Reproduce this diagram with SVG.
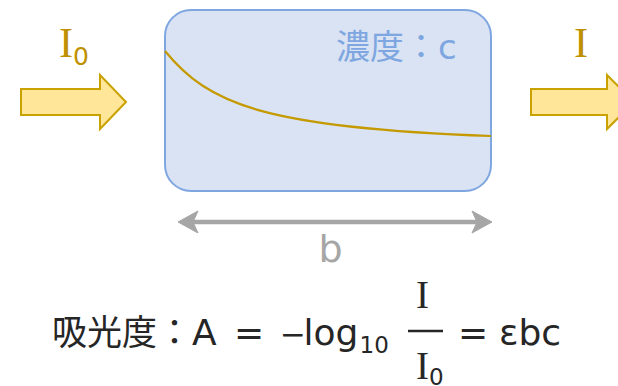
<svg xmlns="http://www.w3.org/2000/svg" width="618" height="386" viewBox="0 0 618 386">
<style>
.arrow{fill:#FFE699;stroke:#C9A200;stroke-width:2;stroke-linejoin:miter}
.gold{fill:#BF9000}
.serif{font-family:"Liberation Serif","DejaVu Serif",serif}
.sans{font-family:"DejaVu Sans","Noto Sans",sans-serif}
.cjk{font-family:"Noto Sans CJK JP","DejaVu Sans",sans-serif}
.dark{fill:#262626}
</style>
<rect width="618" height="386" fill="#ffffff"/>
<g id="arrow-in">
<path class="arrow" d="M21,89 L100,89 L100,75 L126,102 L100,129 L100,115 L21,115 Z"/>
<text class="gold" x="59" y="57"><tspan class="serif" font-size="42">I</tspan><tspan class="sans" font-size="25" x="73" y="65">0</tspan></text>
</g>
<g id="sample">
<rect x="165" y="10" width="326" height="181" rx="26" ry="26" fill="#DAE3F3" stroke="#7EA6E0" stroke-width="2"/>
<path d="M165,51 C208,104 265,128 491,136" fill="none" stroke="#C49A00" stroke-width="2.2"/>
<text x="336" y="59" fill="#7EA6E0" font-size="34"><tspan class="cjk">濃度：</tspan><tspan class="sans">c</tspan></text>
</g>
<g id="arrow-out">
<path class="arrow" d="M531,89 L607,89 L607,75 L634,102 L607,129 L607,115 L531,115 Z"/>
<text class="gold serif" x="574" y="57" font-size="42">I</text>
</g>
<g id="connectors">
<line x1="185" y1="222" x2="485" y2="222" stroke="#A6A6A6" stroke-width="4.5"/>
<path d="M178,222 L198,211 L193,222 L198,233 Z" fill="#A6A6A6" stroke="#A6A6A6" stroke-width="1"/>
<path d="M492,222 L472,211 L477,222 L472,233 Z" fill="#A6A6A6" stroke="#A6A6A6" stroke-width="1"/>
</g>
<g id="label-b">
<text class="sans" x="318.5" y="262" font-size="38" fill="#A6A6A6">b</text>
</g>
<g id="formula" class="dark">
<text class="cjk" x="52" y="345" font-size="35">吸光度：</text>
<text class="sans" x="192" y="345" font-size="36">A</text>
<text class="sans" x="234" y="345" font-size="36">=</text>
<text class="sans" x="280" y="345" font-size="31">−</text>
<text class="sans" x="303.5" y="345" font-size="36">log</text>
<text class="sans" x="359.5" y="353" font-size="23">10</text>
<text class="serif" x="416" y="308" font-size="39">I</text>
<line x1="408" y1="331" x2="443" y2="331" stroke="#262626" stroke-width="2.6"/>
<text class="serif" x="416" y="379" font-size="39">I</text>
<text class="sans" x="429" y="385" font-size="23">0</text>
<text class="sans" x="458" y="345" font-size="36">=</text>
<text class="sans" x="499" y="345" font-size="36">εbc</text>
</g>
</svg>
